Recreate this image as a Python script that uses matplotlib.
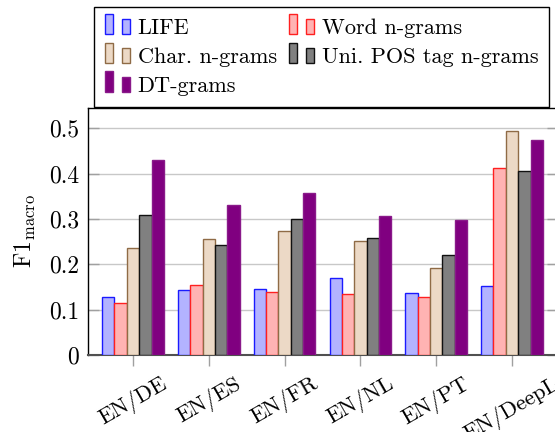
import matplotlib
matplotlib.use("Agg")
import matplotlib.pyplot as plt
import numpy as np
from matplotlib.legend_handler import HandlerBase
from matplotlib.patches import Rectangle

# values (F1 macro)
pairs = ['EN/DE', 'EN/ES', 'EN/FR', 'EN/NL', 'EN/PT', 'EN/DeepL']
life = [0.129, 0.143, 0.146, 0.169, 0.136, 0.152]
word_ngrams = [0.114, 0.155, 0.138, 0.134, 0.129, 0.413]
char_ngrams = [0.237, 0.257, 0.273, 0.251, 0.191, 0.495]
pos_ngrams = [0.310, 0.243, 0.299, 0.259, 0.220, 0.405]
dt_grams = [0.430, 0.332, 0.357, 0.306, 0.298, 0.475]
series_names = ['LIFE', 'Word n-grams', 'Char. n-grams', 'Uni. POS tag n-grams', 'DT-grams']
yticks = [0, 0.1, 0.2, 0.3, 0.4, 0.5]
ytick_labels = ['0', '0.1', '0.2', '0.3', '0.4', '0.5']

plt.rcParams['font.family'] = ['cmr10', 'DejaVu Serif']
plt.rcParams['mathtext.fontset'] = 'cm'
plt.rcParams['axes.formatter.use_mathtext'] = True

faces = ['#b3b3ff', '#ffb3b3', '#ecd9c6', '#808080', '#800080']
edges = ['#1a1aff', '#ff2020', '#8f6b46', '#111111', '#8a1a8a']


class TwoBars(HandlerBase):
    # pgfplots style ybar legend: two little bars
    def create_artists(self, legend, orig, xd, yd, width, height, fontsize, trans):
        fc = orig.get_facecolor()
        ec = orig.get_edgecolor()
        w = 0.33 * width
        r1 = Rectangle((-xd, -yd), w, 0.92 * fontsize, facecolor=fc, edgecolor=ec,
                       linewidth=1.0, transform=trans)
        r2 = Rectangle((-xd + 0.67 * width, -yd), w, 0.68 * fontsize, facecolor=fc,
                       edgecolor=ec, linewidth=1.0, transform=trans)
        return [r1, r2]


fig = plt.figure(figsize=(5.55, 4.32), dpi=100)
ax = fig.add_axes([87.5 / 555, 77 / 432, 470 / 555, 247 / 432])

x = np.arange(len(pairs))
bw = 0.163
data = [life, word_ngrams, char_ngrams, pos_ngrams, dt_grams]
handles = []
for i, vals in enumerate(data):
    b = ax.bar(x + (i - 2) * bw, vals, bw, color=faces[i], edgecolor=edges[i],
               linewidth=1.0, label=series_names[i], zorder=3)
    handles.append(b.patches[0])

ax.set_xlim(-0.6, 5.6)
ax.set_ylim(0, 0.545)
ax.set_yticks(yticks)
ax.set_yticklabels(ytick_labels)
ax.set_xticks(x)
ax.set_xticklabels(pairs, rotation=30, ha='center', va='top')
ax.yaxis.grid(True, color='#c8c8c8', linewidth=1.0, zorder=0)
ax.set_axisbelow(True)

ax.tick_params(axis='y', direction='in', length=8, color='#a0a0a0', width=1,
               right=True, labelsize=17, pad=6)
ax.tick_params(axis='x', direction='out', length=8, color='#a0a0a0', width=1,
               labelsize=16, pad=5)
for s in ['left', 'top', 'right']:
    ax.spines[s].set_color('black')
    ax.spines[s].set_linewidth(1.0)
ax.spines['bottom'].set_color('#505050')
ax.spines['bottom'].set_linewidth(1.5)

ax.set_ylabel(r'F1$_{\mathrm{macro}}$', fontsize=17, labelpad=8)

# row-major order like the reference: legend fills columns first
order = [0, 2, 4, 1, 3]
leg = fig.legend([handles[k] for k in order], [series_names[k] for k in order],
                 ncol=2, loc='upper left',
                 bbox_to_anchor=(94.3 / 555, 1 - 107.5 / 432, 455 / 555, 100 / 432),
                 mode='expand', fontsize=16, handler_map={h: TwoBars() for h in handles},
                 handlelength=1.1, handletextpad=0.35, columnspacing=0.3,
                 labelspacing=0.42, borderpad=0.5, borderaxespad=0,
                 fancybox=False, framealpha=1, edgecolor='black')
leg.get_frame().set_linewidth(1.0)

fig.savefig('out.png', dpi=100)
